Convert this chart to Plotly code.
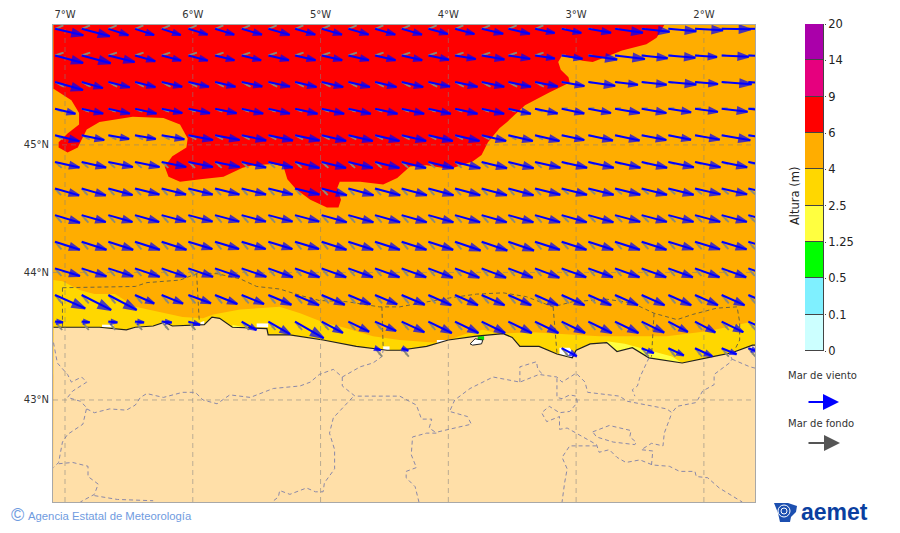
import math

import plotly.graph_objects as go

# map window (degrees)
LON_RANGE = [-7.094, -1.60]
LAT_RANGE = [42.20, 45.94]

LON_TICKS = [-7, -6, -5, -4, -3, -2]
LON_LABELS = ["7°W", "6°W", "5°W", "4°W", "3°W", "2°W"]
LAT_TICKS = [43, 44, 45]
LAT_LABELS = ["43°N", "44°N", "45°N"]

# colour bar
BAND_LABELS = ["0", "0.1", "0.5", "1.25", "2.5", "4", "6", "9", "14", "20"]
BAND_COLORS = ["#CCFFFF", "#7FF0FF", "#00FF00", "#FFFF40", "#FFD700",
               "#FFAD00", "#FF0000", "#E6007E", "#AA00AA"]

# wave height areas, as lon / lat outlines
RED_LON = [-7.09, -2.31, -2.37, -2.45, -2.64, -2.76, -2.87, -2.95, -3.11, -3.14, -3.12, -3.06, -3.05,
           -3.21, -3.40, -3.54, -3.60, -3.69, -3.74, -3.81, -3.99, -4.17, -4.30, -4.40, -4.51, -4.69,
           -4.85, -4.87, -4.84, -4.86, -4.95, -5.08, -5.19, -5.26, -5.29, -5.37, -5.53, -5.61, -5.76,
           -5.94, -6.10, -6.19, -6.22, -6.16, -6.05, -6.04, -6.10, -6.23, -6.47, -6.73, -6.83, -6.87,
           -6.90, -6.98, -7.05, -7.05, -6.98, -6.89, -6.89, -6.95, -7.09]
RED_LAT = [45.94, 45.94, 45.84, 45.79, 45.74, 45.69, 45.65, 45.66, 45.70, 45.65, 45.59, 45.53, 45.49,
           45.41, 45.31, 45.18, 45.13, 45.02, 44.92, 44.87, 44.81, 44.84, 44.83, 44.74, 44.69, 44.71,
           44.71, 44.66, 44.57, 44.51, 44.51, 44.57, 44.65, 44.73, 44.83, 44.85, 44.84, 44.82, 44.75,
           44.73, 44.71, 44.75, 44.83, 44.91, 44.98, 45.05, 45.16, 45.21, 45.22, 45.18, 45.12, 45.04,
           44.98, 44.94, 44.98, 45.02, 45.09, 45.16, 45.25, 45.35, 45.44]

GOLD_LON = [-7.09, -7.02, -6.88, -6.77, -6.61, -6.45, -6.26, -6.08, -5.92, -5.84, -5.63, -5.32, -5.16,
            -4.98, -4.79, -4.59, -4.38, -4.12, -4.00, -3.86, -3.73, -3.60, -3.34, -2.82, -2.29, -1.96,
            -1.60, -1.60, -7.09]
GOLD_LAT = [43.94, 43.93, 43.86, 43.83, 43.83, 43.73, 43.69, 43.65, 43.64, 43.67, 43.71, 43.73, 43.68,
            43.61, 43.56, 43.50, 43.47, 43.45, 43.47, 43.52, 43.55, 43.52, 43.53, 43.50, 43.50, 43.54,
            43.62, 43.20, 43.20]

YELLOW_E_LON = [-2.76, -2.62, -2.43, -2.25, -2.17, -2.76]
YELLOW_E_LAT = [43.46, 43.44, 43.39, 43.34, 43.29, 43.29]
YELLOW_W_LON = [-5.69, -5.60, -5.60, -5.69]
YELLOW_W_LAT = [43.59, 43.57, 43.50, 43.50]

GREEN_LON = [-3.77, -3.72, -3.72, -3.77]
GREEN_LAT = [43.50, 43.50, 43.47, 43.47]

# gaps in the wave field next to the coast
WHITE_PATCHES = [
    ([-6.71, -6.62, -6.62, -6.71], [43.59, 43.59, 43.57, 43.57]),
    ([-5.94, -5.91, -5.91, -5.94], [43.61, 43.62, 43.59, 43.59]),
    ([-5.50, -5.41, -5.41, -5.50], [43.60, 43.60, 43.57, 43.57]),
    ([-4.51, -4.46, -4.46, -4.51], [43.42, 43.42, 43.39, 43.39]),
    ([-4.09, -4.00, -4.00, -4.09], [43.47, 43.47, 43.45, 43.44]),
    ([-3.54, -3.50, -3.50, -3.53], [43.50, 43.49, 43.47, 43.47]),
    ([-3.13, -3.05, -3.00, -3.07, -3.13], [43.41, 43.41, 43.33, 43.34, 43.36]),
]

COAST_LON = [-7.09, -7.00, -6.73, -6.52, -6.45, -6.31, -6.22, -6.16, -5.91, -5.85, -5.79, -5.69, -5.42,
             -5.41, -5.24, -4.98, -4.72, -4.48, -4.38, -4.17, -4.00, -3.78, -3.57, -3.50, -3.44, -3.29,
             -3.15, -3.03, -3.00, -2.89, -2.76, -2.68, -2.56, -2.43, -2.17, -1.93, -1.78, -1.62, -1.60]
COAST_LAT = [43.57, 43.57, 43.57, 43.55, 43.57, 43.58, 43.61, 43.58, 43.59, 43.65, 43.64, 43.57, 43.56,
             43.51, 43.51, 43.47, 43.42, 43.39, 43.39, 43.42, 43.47, 43.50, 43.52, 43.49, 43.42, 43.42,
             43.36, 43.33, 43.39, 43.44, 43.45, 43.38, 43.41, 43.33, 43.29, 43.34, 43.37, 43.43, 43.43]

ESTUARY_LON = [-3.83, -3.79, -3.73, -3.74, -3.81, -3.83]
ESTUARY_LAT = [43.44, 43.48, 43.47, 43.44, 43.43, 43.44]

# dashed limits over the sea
SEA_LINES = [
    ([-7.02, -6.45, -6.36, -6.10, -5.97, -5.81, -5.63, -5.50, -5.32, -5.16, -5.01, -4.79, -4.54, -4.38,
      -4.22, -3.99, -3.78, -3.57, -3.39, -3.18, -3.03, -2.76, -2.56, -2.39, -2.21, -2.09, -1.90, -1.74,
      -1.72, -1.72, -1.76],
     [43.88, 43.89, 43.92, 43.94, 43.99, 43.99, 43.95, 43.89, 43.87, 43.82, 43.78, 43.77, 43.73, 43.73,
      43.76, 43.80, 43.83, 43.84, 43.81, 43.73, 43.77, 43.79, 43.76, 43.68, 43.63, 43.67, 43.72, 43.73,
      43.61, 43.47, 43.39]),
    ([-7.02, -7.02], [43.88, 43.57]),
    ([-5.97, -5.95], [43.99, 43.63]),
    ([-4.52, -4.51], [43.73, 43.41]),
    ([-3.18, -3.15], [43.73, 43.37]),
    ([-2.39, -2.41], [43.68, 43.34]),
]

# dashed province limits on land
LAND_LINES = [
    ([-7.09, -7.06, -6.98, -6.95, -6.87, -6.83, -6.94, -6.98, -6.88, -6.83, -6.86, -6.98, -7.02, -7.05, -7.09],
     [43.45, 43.29, 43.20, 43.14, 43.18, 43.14, 43.07, 43.02, 42.99, 42.94, 42.81, 42.73, 42.67, 42.51, 42.47]),
    ([-6.83, -6.77, -6.65, -6.52, -6.45, -6.41, -6.36, -6.23, -6.08, -5.98, -5.92, -5.81, -5.71, -5.55, -5.37,
      -5.16, -5.08, -5.01, -4.90, -4.83, -4.69, -4.59, -4.52, -4.51],
     [42.93, 42.90, 42.93, 42.92, 42.96, 43.02, 43.05, 43.02, 43.06, 43.06, 43.00, 42.97, 43.04, 43.02, 43.09,
      43.11, 43.14, 43.20, 43.24, 43.18, 43.26, 43.29, 43.34, 43.39]),
    ([-4.83, -4.83, -4.73, -4.38, -4.25, -4.21, -4.13, -4.15, -4.09, -4.17, -4.28, -4.29, -4.25, -4.33, -4.33,
      -4.26, -4.23],
     [43.18, 43.11, 43.03, 43.03, 42.96, 42.85, 42.85, 42.78, 42.74, 42.74, 42.71, 42.57, 42.47, 42.44, 42.39,
      42.32, 42.20]),
    ([-4.75, -4.85, -4.90, -4.93, -4.89, -4.89, -4.97, -4.98, -5.04, -5.11, -5.24, -5.32, -5.33, -5.38],
     [43.02, 42.91, 42.86, 42.74, 42.61, 42.46, 42.35, 42.28, 42.28, 42.31, 42.26, 42.29, 42.24, 42.20]),
    ([-7.05, -6.94, -6.82, -6.82, -6.74, -6.77, -6.88],
     [42.50, 42.51, 42.48, 42.40, 42.34, 42.26, 42.20]),
    ([-6.77, -6.59, -6.31], [42.25, 42.22, 42.21]),
    ([-4.08, -3.99, -3.82, -3.85, -3.99, -3.95, -3.83, -3.65, -3.44, -3.29, -3.15, -3.11, -3.00, -2.93, -2.91,
      -2.66, -2.60, -2.29, -2.25, -2.21, -2.06, -2.01, -1.92, -1.92, -1.80, -1.78, -1.80],
     [42.75, 42.77, 42.81, 42.87, 42.91, 43.00, 43.09, 43.18, 43.14, 43.20, 43.18, 43.14, 43.21, 43.14, 43.06,
      43.03, 42.99, 42.93, 42.90, 42.95, 42.98, 43.07, 43.12, 43.20, 43.29, 43.32, 43.37]),
    ([-1.78, -1.64, -1.60], [43.32, 43.26, 43.25]),
    ([-3.44, -3.44, -3.31, -3.30, -3.26], [43.14, 43.26, 43.30, 43.24, 43.20]),
    ([-2.43, -2.45, -2.50, -2.52, -2.56, -2.54], [43.33, 43.29, 43.18, 43.11, 43.08, 43.03]),
    ([-3.15, -3.15, -3.11, -3.05, -3.00, -2.99, -3.05, -3.13, -3.21, -3.27, -3.23, -3.13, -3.13, -3.07, -2.84,
      -2.82, -2.74, -2.68, -2.61, -2.50, -2.40, -2.27, -2.19, -2.07, -2.06, -1.97, -1.88, -1.70],
     [43.17, 43.02, 43.01, 43.04, 43.03, 42.98, 42.91, 42.90, 42.95, 42.90, 42.83, 42.87, 42.77, 42.78, 42.65,
      42.59, 42.61, 42.55, 42.51, 42.53, 42.49, 42.48, 42.44, 42.44, 42.40, 42.39, 42.31, 42.20]),
    ([-2.84, -3.05, -3.11, -3.07, -3.09, -3.11], [42.64, 42.64, 42.55, 42.46, 42.35, 42.20]),
    ([-2.87, -2.74, -2.57, -2.58, -2.53, -2.54, -2.71, -2.84, -2.87],
     [42.75, 42.80, 42.76, 42.71, 42.67, 42.65, 42.67, 42.71, 42.75]),
    ([-2.41, -2.40, -2.49, -2.41, -2.32, -2.31, -2.25],
     [42.49, 42.60, 42.61, 42.66, 42.64, 42.74, 42.90]),
]

# arrow lattice
GRID_LON0 = -7.078
GRID_DLON = 0.2087
GRID_LAT0 = 45.91
GRID_DLAT = 0.2087

N = None
# wind sea arrows: length (pixel-sized units) per row and column, None = no sea
WIND_LEN = [
    [29, 29, 21, 20, 20, 20, 20, 21, 22, 21, 21, 21, 21, 21, 20, 20, 22, 22, 20, 20, 23, 28, 28, 28, 28, 29, 29],
    [29, 30, 27, 21, 20, 20, 20, 20, 21, 21, 21, 21, 21, 21, 21, 21, 23, 22, 20, 21, 29, 30, 26, 27, 22, 27, 27],
    [29, 22, 22, 21, 21, 21, 21, 21, 22, 22, 22, 22, 22, 22, 22, 23, 23, 23, 23, 23, 27, 23, 25, 28, 23, 30, 30],
    [21, 22, 22, 22, 21, 22, 22, 22, 22, 23, 23, 23, 23, 23, 23, 23, 23, 23, 23, 23, 23, 25, 25, 23, 23, 26, 26],
    [25, 23, 21, 21, 23, 25, 25, 25, 25, 25, 25, 25, 25, 25, 25, 25, 25, 25, 25, 23, 25, 25, 25, 23, 25, 29, 29],
    [25, 25, 25, 25, 25, 25, 25, 25, 25, 25, 25, 25, 25, 25, 26, 26, 26, 26, 26, 26, 26, 26, 26, 26, 26, 26, 26],
    [25, 25, 25, 25, 25, 25, 25, 25, 25, 25, 26, 26, 26, 26, 26, 26, 26, 26, 26, 26, 26, 26, 26, 26, 26, 26, 26],
    [26, 25, 25, 25, 25, 25, 25, 25, 25, 25, 26, 26, 26, 26, 26, 26, 26, 26, 26, 26, 26, 26, 26, 26, 26, 26, 26],
    [26, 26, 26, 26, 26, 25, 25, 25, 25, 25, 26, 26, 26, 26, 26, 27, 27, 27, 26, 26, 26, 26, 26, 26, 26, 26, 26],
    [26, 26, 26, 26, 26, 26, 26, 26, 26, 26, 26, 26, 26, 26, 26, 26, 26, 26, 26, 26, 26, 26, 26, 26, 26, 26, 26],
    [33, 33, 32, 21, 23, 24, 24, 24, 25, 26, 25, 24, 24, 25, 25, 25, 25, 25, 25, 25, 25, 25, 25, 25, 25, 25, 25],
    [8, 8, 9, 9, 10, 12, N, 17, 25, 33, 24, 23, 23, 25, 26, 26, 26, 26, 26, 26, 26, 26, 25, 22, 23, 24, 24],
    [N, N, N, N, N, N, N, N, N, N, N, N, 6, 7, N, N, N, N, N, 17, N, N, 13, 17, 19, 16, 10],
]
# wind sea arrows: degrees clockwise from east
WIND_ANGLE = [
    [13, 15, 18, 18, 18, 17, 17, 16, 16, 16, 16, 16, 16, 16, 15, 15, 13, 13, 12, 12, 10, 8, 6, 5, 3, 1, 0],
    [15, 15, 14, 16, 15, 15, 14, 14, 13, 13, 13, 13, 13, 13, 12, 10, 10, 9, 9, 9, 8, 7, 6, 5, 4, 3, 2],
    [16, 16, 14, 14, 13, 13, 13, 12, 12, 13, 13, 13, 13, 13, 12, 12, 12, 12, 11, 10, 8, 7, 6, 5, 5, 4, 3],
    [14, 13, 13, 13, 12, 12, 12, 13, 13, 13, 13, 13, 13, 13, 13, 13, 13, 13, 12, 12, 11, 10, 10, 9, 8, 7, 6],
    [14, 12, 10, 10, 10, 11, 11, 12, 12, 12, 13, 13, 13, 13, 13, 13, 13, 13, 13, 12, 12, 12, 11, 11, 10, 10, 9],
    [13, 13, 12, 12, 12, 12, 12, 13, 13, 14, 14, 14, 14, 14, 14, 14, 14, 14, 13, 13, 13, 13, 13, 12, 12, 12, 11],
    [16, 16, 15, 14, 14, 14, 14, 14, 14, 14, 15, 15, 15, 15, 15, 15, 15, 15, 14, 14, 14, 14, 14, 14, 13, 13, 13],
    [17, 16, 16, 16, 15, 15, 15, 15, 15, 15, 16, 16, 16, 16, 16, 16, 16, 16, 16, 16, 16, 15, 15, 15, 15, 15, 15],
    [18, 18, 18, 18, 18, 17, 17, 17, 17, 17, 18, 18, 18, 18, 18, 19, 19, 19, 18, 18, 18, 18, 18, 17, 17, 17, 17],
    [17, 18, 18, 19, 19, 19, 19, 19, 20, 20, 20, 20, 20, 20, 21, 21, 21, 21, 21, 20, 20, 20, 20, 20, 20, 20, 20],
    [24, 27, 28, 24, 22, 20, 22, 22, 23, 23, 23, 23, 23, 23, 24, 24, 24, 24, 24, 24, 24, 24, 24, 24, 24, 24, 24],
    [5, 5, 5, 5, 5, 15, N, 30, 30, 30, 28, 26, 24, 25, 26, 26, 26, 26, 26, 26, 26, 26, 26, 28, 28, 26, 24],
    [N, N, N, N, N, N, N, N, N, N, N, N, 20, 20, N, N, N, N, N, 28, N, N, 22, 25, 25, 22, 20],
]

# swell arrows: one value per row, west and east of column 19
SWELL_ANGLE_W = [-22, -18, 28, 22, 28, 42, 48, 48, 50, 50, 50, 50, 50]
SWELL_ANGLE_E = [0, 0, 10, -5, 10, 20, 40, 45, 48, 50, 50, 50, 50]
SWELL_LEN_W = [9, 9, 10, 8, 9, 9, 9, 10, 10, 10, 11, 11, 11]
SWELL_LEN_E = [4, 4, 5, 6, 6, 7, 9, 10, 10, 10, 11, 11, 11]

PX_DEG = 127.8  # pixel-sized units per degree

BLUE = "#0000FF"
GRAY_ARROW = "#8A8A7A"
ORANGE = "#FFAD00"
LAND = "#FFDFA8"


def paper_x(px):
    return px / 900


def paper_y(py):
    return 1 - py / 533


def fill_area(xs, ys, color):
    return go.Scatter(x=xs, y=ys, mode="lines", fill="toself", fillcolor=color,
                      line=dict(width=0, color=color), hoverinfo="skip", showlegend=False)


def dash_line(xs, ys, color, width=1.0, dash="4px,3px"):
    return go.Scatter(x=xs, y=ys, mode="lines", line=dict(color=color, width=width, dash=dash),
                      hoverinfo="skip", showlegend=False)


def arrow_traces(lengths, angles, color, width, head_factor, head_min, head_line):
    sx, sy, hx, hy, ha, hs = [], [], [], [], [], []
    for r, row in enumerate(lengths):
        for c, l in enumerate(row):
            a = angles[r][c]
            if l is None or a is None:
                continue
            lon0 = GRID_LON0 + c * GRID_DLON
            lat0 = GRID_LAT0 - r * GRID_DLAT
            lon1 = lon0 + l * math.cos(math.radians(a)) / PX_DEG
            lat1 = lat0 - l * math.sin(math.radians(a)) / PX_DEG
            sx += [lon0, lon1, None]
            sy += [lat0, lat1, None]
            hx.append(lon1)
            hy.append(lat1)
            ha.append(90 + a)
            hs.append(max(head_min, l * head_factor))
    shaft = go.Scatter(x=sx, y=sy, mode="lines", line=dict(color=color, width=width),
                       hoverinfo="skip", showlegend=False)
    head = go.Scatter(x=hx, y=hy, mode="markers",
                      marker=dict(symbol="arrow", size=hs, angle=ha, color=color,
                                  line=dict(width=head_line, color=color)),
                      hoverinfo="skip", showlegend=False)
    return [shaft, head]


def note(text, px, py, size, color="#333333", family="DejaVu Sans", xanchor="center", angle=0):
    fig.add_annotation(text=text, xref="paper", yref="paper", x=paper_x(px), y=paper_y(py),
                       xanchor=xanchor, yanchor="middle", textangle=angle, showarrow=False,
                       font=dict(family=family, size=size, color=color))


fig = go.Figure()

# wave height areas (orange is the plot background)
fig.add_trace(fill_area(GOLD_LON, GOLD_LAT, "#FFD700"))
fig.add_trace(fill_area(YELLOW_E_LON, YELLOW_E_LAT, "#FFFF40"))
fig.add_trace(fill_area(YELLOW_W_LON, YELLOW_W_LAT, "#FFFF40"))
fig.add_trace(fill_area(RED_LON, RED_LAT, "#FF0000"))
for xs, ys in WHITE_PATCHES:
    fig.add_trace(fill_area(xs, ys, "#FFFFFF"))

# land and coast
fig.add_trace(fill_area(COAST_LON + [LON_RANGE[1], LON_RANGE[0]], COAST_LAT + [LAT_RANGE[0], LAT_RANGE[0]], LAND))
fig.add_trace(fill_area(ESTUARY_LON, ESTUARY_LAT, "#FFFFFF"))
fig.add_trace(fill_area(GREEN_LON, GREEN_LAT, "#00E000"))
fig.add_trace(go.Scatter(x=COAST_LON, y=COAST_LAT, mode="lines", line=dict(color="#202020", width=1.2),
                         hoverinfo="skip", showlegend=False))
fig.add_trace(go.Scatter(x=ESTUARY_LON, y=ESTUARY_LAT, mode="lines", line=dict(color="#202020", width=1),
                         hoverinfo="skip", showlegend=False))

# limits
for xs, ys in LAND_LINES:
    fig.add_trace(dash_line(xs, ys, "#8A88A8"))
for xs, ys in SEA_LINES:
    fig.add_trace(dash_line(xs, ys, "#6E6440"))

# graticule, it sits over the fill colours
for lon in LON_TICKS:
    fig.add_trace(dash_line([lon, lon], LAT_RANGE, "rgba(130,130,130,0.55)", dash="5px,4px"))
for lat in LAT_TICKS:
    fig.add_trace(dash_line(LON_RANGE, [lat, lat], "rgba(130,130,130,0.55)", dash="5px,4px"))

# swell arrows below the wind sea ones
swell_len = []
swell_ang = []
for r, row in enumerate(WIND_LEN):
    swell_len.append([None if v is None else (SWELL_LEN_W[r] if c < 19 else SWELL_LEN_E[r])
                      for c, v in enumerate(row)])
    swell_ang.append([SWELL_ANGLE_W[r] if c < 19 else SWELL_ANGLE_E[r] for c in range(len(row))])
for tr in arrow_traces(swell_len, swell_ang, GRAY_ARROW, 1.8, 0.45, 4, 0):
    fig.add_trace(tr)
for tr in arrow_traces(WIND_LEN, WIND_ANGLE, BLUE, 2, 0.4, 6, 2):
    fig.add_trace(tr)

# colour bar as a stacked column
for color in BAND_COLORS:
    fig.add_trace(go.Bar(x=["altura"], y=[1], xaxis="x2", yaxis="y2", width=1,
                         marker=dict(color=color, line=dict(color="#444444", width=1)),
                         hoverinfo="skip", showlegend=False))

fig.update_layout(
    width=900,
    height=533,
    margin=dict(l=0, r=0, t=0, b=0),
    paper_bgcolor="white",
    plot_bgcolor=ORANGE,
    barmode="stack",
    bargap=0,
    showlegend=False,
    font=dict(family="DejaVu Sans", color="#222222"),
    xaxis=dict(
        domain=[paper_x(53), paper_x(755)],
        range=LON_RANGE,
        side="top",
        automargin=False,
        tickmode="array",
        tickvals=LON_TICKS,
        ticktext=LON_LABELS,
        tickfont=dict(size=10, color="#333333"),
        ticks="outside",
        ticklen=2,
        tickcolor="rgba(0,0,0,0)",
        showgrid=False,
        zeroline=False,
        showline=True,
        linecolor="#A8A8A8",
        linewidth=1,
        mirror=True,
        anchor="y",
    ),
    yaxis=dict(
        domain=[paper_y(502), paper_y(25)],
        range=LAT_RANGE,
        automargin=False,
        tickmode="array",
        tickvals=LAT_TICKS,
        ticktext=LAT_LABELS,
        tickfont=dict(size=10, color="#333333"),
        ticks="outside",
        ticklen=1,
        tickcolor="rgba(0,0,0,0)",
        showgrid=False,
        zeroline=False,
        showline=True,
        linecolor="#A8A8A8",
        linewidth=1,
        mirror=True,
        anchor="x",
    ),
    xaxis2=dict(domain=[paper_x(805), paper_x(824)], range=[-0.5, 0.5], visible=False,
                anchor="y2", type="category", automargin=False),
    yaxis2=dict(
        domain=[paper_y(351), paper_y(24)],
        range=[0, 9],
        side="right",
        anchor="x2",
        automargin=False,
        tickmode="array",
        tickvals=list(range(len(BAND_LABELS))),
        ticktext=BAND_LABELS,
        tickfont=dict(size=11.5, color="#222222"),
        ticks="outside",
        ticklen=1,
        tickcolor="#444444",
        showgrid=False,
        zeroline=False,
    ),
)

note("Altura (m)", 795, 196, 11.5, color="#222222", angle=-90)

# arrow legend
note("Mar de viento", 822, 375, 10)
note("Mar de fondo", 821, 423, 10)
fig.add_annotation(text="", xref="paper", yref="paper", x=paper_x(839), y=paper_y(402), ax=-32, ay=0,
                   arrowcolor=BLUE, arrowwidth=2, arrowhead=2, arrowsize=1.6, showarrow=True)
fig.add_annotation(text="", xref="paper", yref="paper", x=paper_x(840), y=paper_y(443), ax=-33, ay=0,
                   arrowcolor="#555555", arrowwidth=2, arrowhead=2, arrowsize=1.6, showarrow=True)

# footer
note("©", 17, 515, 18, color="#6F9BE0", family="Liberation Sans")
note("Agencia Estatal de Meteorología", 26, 516, 11.3, color="#6F9BE0", family="Liberation Sans", xanchor="left")
note("<b>aemet</b>", 799, 512, 23, color="#0A3FA0", family="Liberation Sans", xanchor="left")

# logo mark
logo = [(774, 503), (788, 503), (797, 506), (796, 512), (791, 517), (790, 522), (780, 522), (778, 513)]
fig.add_shape(type="path", xref="paper", yref="paper", line=dict(width=0), fillcolor="#1C4FB0",
              path="M " + " L ".join(f"{paper_x(a):.5f},{paper_y(b):.5f}" for a, b in logo) + " Z")
for r in (3, 6):
    fig.add_shape(type="circle", xref="paper", yref="paper", line=dict(color="white", width=1),
                  x0=paper_x(784 - r), x1=paper_x(784 + r), y0=paper_y(511 + r), y1=paper_y(511 - r))

fig.write_html("out.html", post_script="document.body.style.margin = '0';",
               config={"displayModeBar": False})
